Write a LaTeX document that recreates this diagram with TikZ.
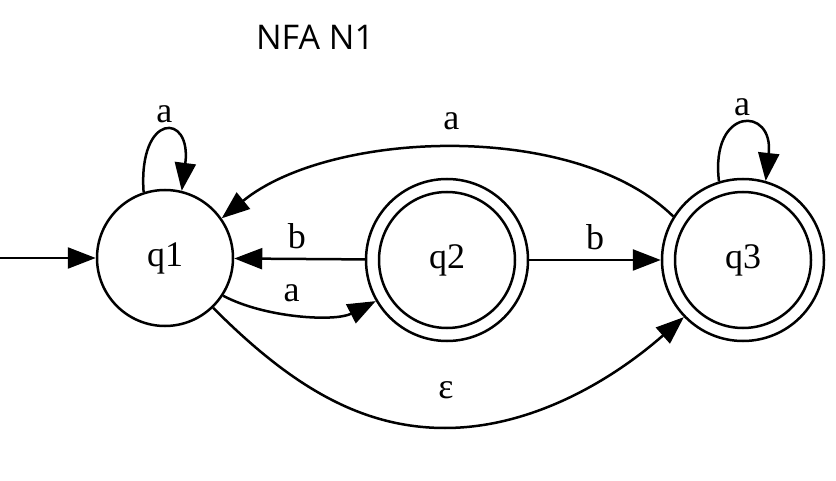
\documentclass[tikz,border=0pt]{standalone}
\usepackage{fontspec}
\setmainfont{Liberation Serif}
\newfontfamily\titlefont{Open Sans}
\usetikzlibrary{arrows.meta}

\begin{document}
\begin{tikzpicture}[
  x=1pt, y=-1pt,
  >={Triangle[length=28pt, width=21pt]},
  state/.style={circle, draw, line width=2.5pt, minimum size=136pt, inner sep=0pt, font=\fontsize{36}{43}\selectfont},
  accept/.style={state, minimum size=162pt, path picture={\draw[line width=2.5pt] (path picture bounding box.center) circle (68pt);}},
  lbl/.style={font=\fontsize{36}{43}\selectfont, inner sep=0pt},
  arrow/.style={->, line width=2.5pt}
]
\useasboundingbox (0,0) rectangle (836,481);
\node[font=\titlefont\fontsize{34}{41}\selectfont] (title) at (315,37) {NFA N1};
\node[state] (q1) at (165,258) {q1};
\node[accept] (q2) at (447,260) {q2};
\node[accept] (q3) at (743,260) {q3};
\coordinate (start) at (0,258);
\draw[arrow] (start) -- (q1);
\draw[arrow] (q1.108) .. controls (138,112) and (192,112) .. node[lbl, above=8pt] (l11) {a} (q1.76);
\draw[arrow] (q3.107) .. controls (710,106) and (774,106) .. node[lbl, above=8pt] (l33) {a} (q3.74);
\draw[arrow] (q3.148) .. controls (575,120) and (330,130) .. node[lbl, above=17pt] (l31) {a} (q1.35);
\draw[arrow] (q2) -- node[lbl, above=9pt, pos=0.52] (l21) {b} (q1);
\draw[arrow] (q1.-33) .. controls (265,318) and (335,322) .. node[lbl, above=11pt, pos=0.45] (l12) {a} (q2.210);
\draw[arrow] (q2) -- node[lbl, above=9pt] (l23) {b} (q3);
\draw[arrow] (q1.-46) .. controls (290,385) and (360,428) .. (445,428)
  .. controls (530,428) and (610,382) .. (q3.224);
\node[lbl] (l13) at (446,390) {ε};
\end{tikzpicture}
\end{document}
